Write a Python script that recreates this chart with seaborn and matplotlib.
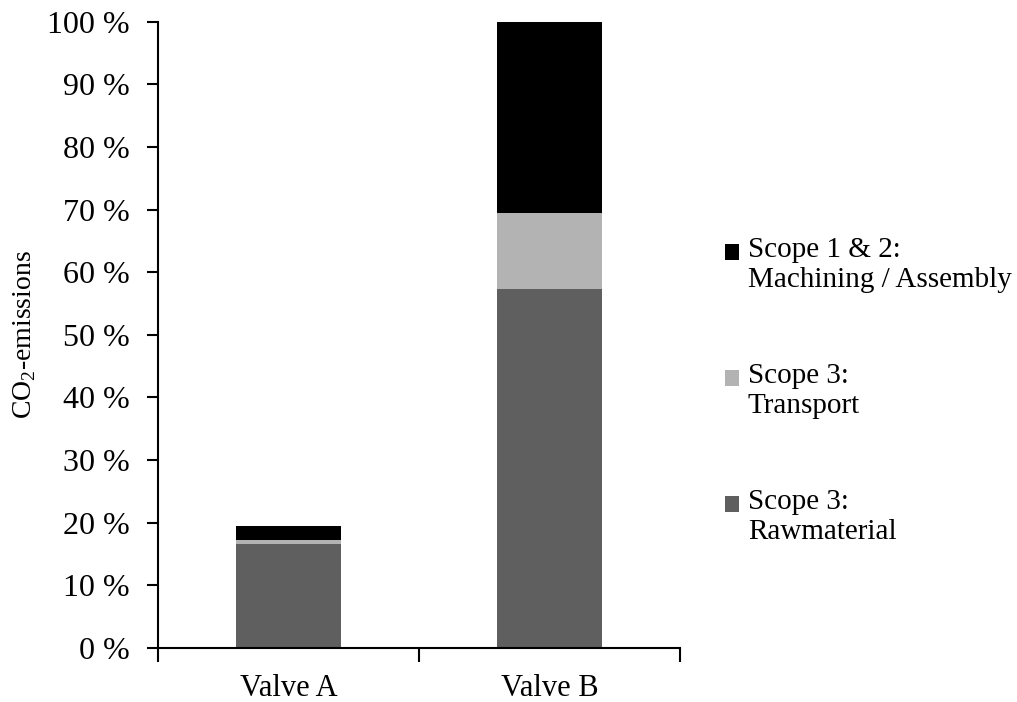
import numpy as np
import pandas as pd
import seaborn as sns
import matplotlib.pyplot as plt
from matplotlib.patches import Patch, Rectangle
from matplotlib.legend_handler import HandlerPatch
from matplotlib.ticker import FixedLocator

sns.set_style('white')
plt.rcParams['font.family'] = ['Liberation Serif', 'DejaVu Serif']
plt.rcParams['mathtext.fontset'] = 'custom'
plt.rcParams['mathtext.rm'] = 'Liberation Serif'
for k in ['text.color', 'axes.labelcolor', 'xtick.color', 'ytick.color']:
    plt.rcParams[k] = 'black'

# data (share of Valve B total, %)
valves = ['Valve A', 'Valve B']
raw_material = [16.6, 57.4]
transport = [0.6, 12.1]
machining = [2.3, 30.5]

labels = ['Scope 1 & 2:\nMachining / Assembly', 'Scope 3:\nTransport', 'Scope 3:\nRawmaterial']
colors = ['#000000', '#b3b3b3', '#5f5f5f']

df = pd.DataFrame({'valve': valves, 'raw': raw_material,
                   'transport': transport, 'machining': machining})
df['lvl2'] = df['raw'] + df['transport']
df['lvl3'] = df['lvl2'] + df['machining']

fig = plt.figure(figsize=(10.17, 7.02), dpi=100)
ax = fig.add_axes([0.155, 0.077, 0.514, 0.892])

# stacked bars drawn as overlapping cumulative bars
for col, c in zip(['lvl3', 'lvl2', 'raw'], colors):
    sns.barplot(data=df, x='valve', y=col, color=c, width=0.4,
                saturation=1, ax=ax, edgecolor='none')

ax.set_ylim(0, 100)
ax.set_xlim(-0.5, 1.5)
ax.set_yticks(np.arange(0, 101, 10))
ax.set_yticklabels([f'{v} %' for v in range(0, 101, 10)])
ax.xaxis.set_minor_locator(FixedLocator([-0.5, 0.5, 1.5]))
ax.tick_params(axis='x', which='major', bottom=False, labelsize=22, pad=15)
ax.tick_params(axis='x', which='minor', bottom=True, length=10, width=1.5,
               direction='out', color='black')
ax.tick_params(axis='y', left=True, length=8, width=1.5, direction='out',
               color='black', labelsize=23, pad=12)
ax.set_xlabel('')
ax.set_ylabel('CO$_2$-emissions', fontsize=20, labelpad=7)
sns.despine(ax=ax)
for s in ['left', 'bottom']:
    ax.spines[s].set_color('black')
    ax.spines[s].set_linewidth(1.5)


class TopSquare(HandlerPatch):
    # put the legend square next to the first line of a two-line label
    def create_artists(self, legend, orig_handle, xdescent, ydescent,
                       width, height, fontsize, trans):
        p = Rectangle((-xdescent, -ydescent + 0.44 * fontsize), width, height,
                      facecolor=orig_handle.get_facecolor(), edgecolor='none',
                      transform=trans)
        return [p]


handles = [Patch(facecolor=c, edgecolor='none') for c in colors]
fig.legend(handles, labels, loc='upper left', bbox_to_anchor=(0.687, 0.700),
           frameon=False, fontsize=21, handlelength=0.48, handleheight=0.48,
           handletextpad=0.31, labelspacing=2.4,
           handler_map={Patch: TopSquare()})

fig.savefig('out.png', dpi=100)
